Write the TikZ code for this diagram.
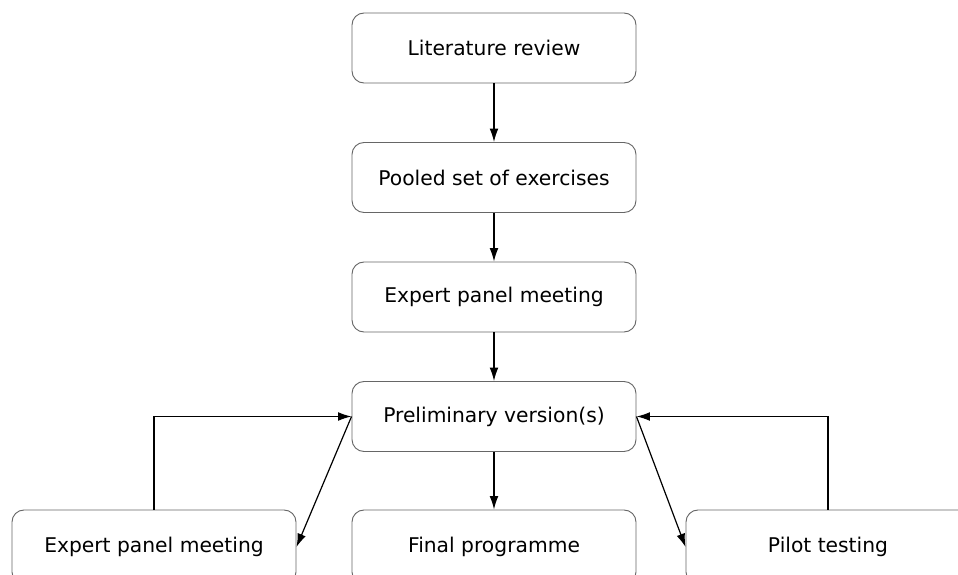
\documentclass[tikz,border=0pt]{standalone}
\usepackage{fontspec}
\setmainfont{DejaVu Sans}
\usetikzlibrary{arrows.meta}

\begin{document}
\begin{tikzpicture}[x=0.75pt,y=-0.75pt,
            stage/.style={draw=black!60, line width=0.7pt, rounded corners=9pt,
                minimum width=213pt, minimum height=52.5pt, inner sep=0pt,
                font=\fontsize{15.2}{18}\selectfont},
            outcome/.style={stage, minimum height=55.5pt},
            flow/.style={-{Latex[length=10pt,width=6.5pt]}, line width=0.9pt}]
            \useasboundingbox (0,0) rectangle (958,575);
            \clip (0,0) rectangle (958,575);
            
            \node[stage] (lit) at (494,48) {Literature review};
            \node[stage] (pool) at (494,177.5) {Pooled set of exercises};
            \node[stage] (panel) at (494,297) {Expert panel meeting};
            \node[stage] (prelim) at (494,416.5) {Preliminary version(s)};
            
            \node[outcome] (panelb) at (154,547) {Expert panel meeting};
            \node[outcome] (final) at (494,547) {Final programme};
            \node[outcome] (pilot) at (828,547) {Pilot testing};
            
            \draw[flow] (lit) -- (pool);
            \draw[flow] (pool) -- (panel);
            \draw[flow] (panel) -- (prelim);
            \draw[flow] (prelim) -- (final);
            
            \draw[flow] (panelb.north) |- (prelim.west);
            \draw[flow] (prelim.west) -- (panelb.east);
            
            \draw[flow] (pilot.north) |- (prelim.east);
            \draw[flow] (prelim.east) -- (pilot.west);
        \end{tikzpicture}
\end{document}
